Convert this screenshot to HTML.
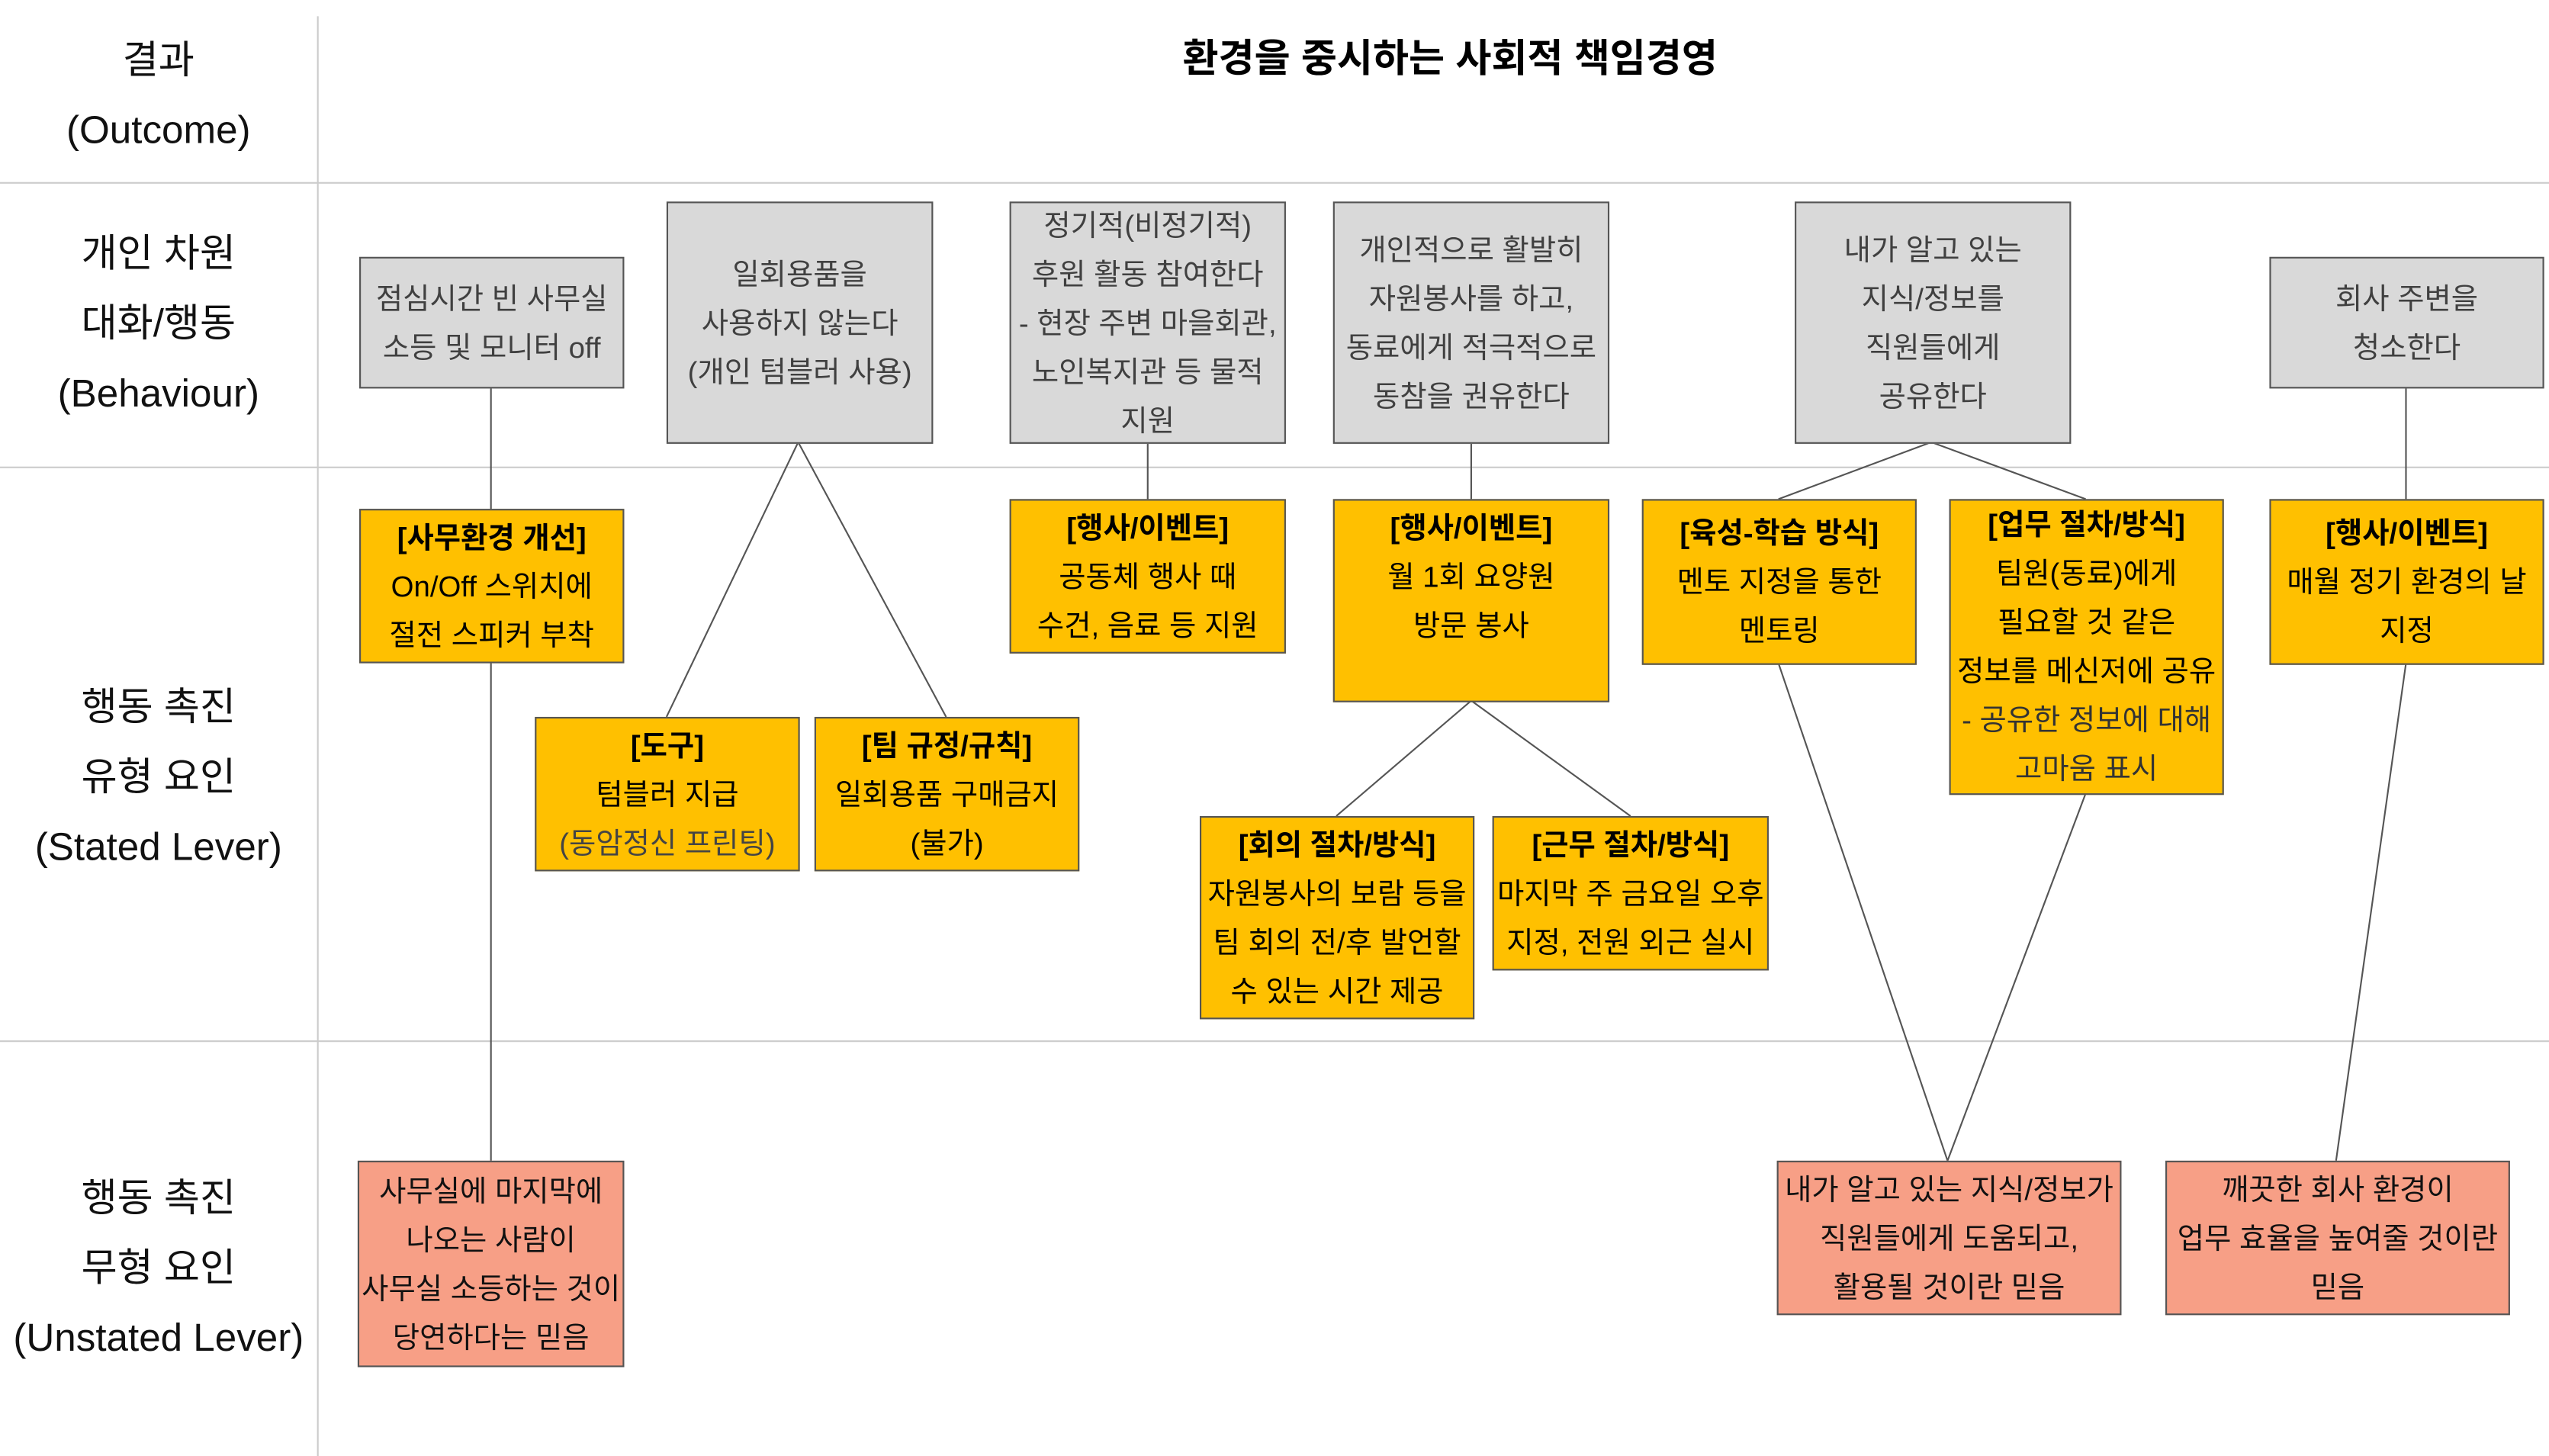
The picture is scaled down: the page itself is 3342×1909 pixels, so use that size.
<!DOCTYPE html>
<html><head><meta charset="utf-8"><style>
html,body{margin:0;padding:0;background:#fff;}
#wrap{width:3342px;height:1909px;overflow:hidden;position:relative;}
#c{position:absolute;left:0;top:0;width:1568px;height:896px;transform:scale(2.1314);transform-origin:0 0;font-family:"Liberation Sans","Noto Sans CJK KR",sans-serif;}
.b{position:absolute;box-sizing:border-box;border:1px solid #555;display:flex;flex-direction:column;justify-content:center;align-items:center;text-align:center;font-size:18px;line-height:30px;white-space:nowrap;}
.g{background:#d9d9d9;color:#404040;}
.o{background:#ffc000;color:#000;}
.s{background:#f79f86;color:#111;}
.o b{font-weight:bold;}
.lab{position:absolute;left:0;width:195px;text-align:center;font-size:24px;line-height:43px;color:#111;}
.hl{position:absolute;left:0;width:1568px;height:1px;background:#ccc;}
svg{position:absolute;left:0;top:0;}
</style></head><body><div id="wrap"><div id="c">
<div class="hl" style="top:112px"></div>
<div class="hl" style="top:287px"></div>
<div class="hl" style="top:640px"></div>
<div style="position:absolute;left:195px;top:10px;width:1px;height:886px;background:#ccc"></div>

<div class="lab" style="top:16px">결과<br>(Outcome)</div>
<div class="lab" style="top:135px">개인 차원<br>대화/행동<br>(Behaviour)</div>
<div class="lab" style="top:414px">행동 촉진<br>유형 요인<br>(Stated Lever)</div>
<div class="lab" style="top:716px">행동 촉진<br>무형 요인<br>(Unstated Lever)</div>
<div style="position:absolute;left:600px;width:584px;top:20px;text-align:center;font-size:24px;font-weight:bold;line-height:34px">환경을 중시하는 사회적 책임경영</div>

<svg width="1568" height="896"><g stroke="#555" stroke-width="1" fill="none">
<line x1="302" y1="238" x2="302" y2="313"/><line x1="302" y1="407" x2="302" y2="714"/>
<line x1="491" y1="272" x2="410" y2="441"/><line x1="491" y1="272" x2="582" y2="441"/>
<line x1="706" y1="272" x2="706" y2="307"/><line x1="905" y1="272" x2="905" y2="307"/>
<line x1="905" y1="431" x2="822" y2="502"/><line x1="905" y1="431" x2="1003" y2="502"/>
<line x1="1188" y1="272" x2="1094" y2="307"/><line x1="1188" y1="272" x2="1283" y2="307"/>
<line x1="1094" y1="408" x2="1198" y2="714"/><line x1="1283" y1="488" x2="1198" y2="714"/>
<line x1="1480" y1="238" x2="1480" y2="307"/><line x1="1480" y1="408" x2="1437" y2="714"/>
</g></svg>

<div class="b g" style="left:221px;top:158px;width:163px;height:81px">점심시간 빈 사무실<br>소등 및 모니터 off</div>
<div class="b g" style="left:410px;top:124px;width:164px;height:149px">일회용품을<br>사용하지 않는다<br>(개인 텀블러 사용)</div>
<div class="b g" style="left:621px;top:124px;width:170px;height:149px">정기적(비정기적)<br>후원 활동 참여한다<br>- 현장 주변 마을회관,<br>노인복지관 등 물적<br>지원</div>
<div class="b g" style="left:820px;top:124px;width:170px;height:149px">개인적으로 활발히<br>자원봉사를 하고,<br>동료에게 적극적으로<br>동참을 권유한다</div>
<div class="b g" style="left:1104px;top:124px;width:170px;height:149px">내가 알고 있는<br>지식/정보를<br>직원들에게<br>공유한다</div>
<div class="b g" style="left:1396px;top:158px;width:169px;height:81px">회사 주변을<br>청소한다</div>

<div class="b o" style="left:221px;top:313px;width:163px;height:95px"><b>[사무환경 개선]</b>On/Off 스위치에<br>절전 스피커 부착</div>
<div class="b o" style="left:329px;top:441px;width:163px;height:95px"><b>[도구]</b>텀블러 지급<br><span style="color:#444">(동암정신 프린팅)</span></div>
<div class="b o" style="left:501px;top:441px;width:163px;height:95px"><b>[팀 규정/규칙]</b>일회용품 구매금지<br>(불가)</div>
<div class="b o" style="left:621px;top:307px;width:170px;height:95px"><b>[행사/이벤트]</b>공동체 행사 때<br>수건, 음료 등 지원</div>
<div class="b o" style="left:820px;top:307px;width:170px;height:125px;justify-content:flex-start;padding-top:2px"><b>[행사/이벤트]</b>월 1회 요양원<br>방문 봉사</div>
<div class="b o" style="left:1010px;top:307px;width:169px;height:102px"><b>[육성-학습 방식]</b>멘토 지정을 통한<br>멘토링</div>
<div class="b o" style="left:1199px;top:307px;width:169px;height:182px"><b>[업무 절차/방식]</b>팀원(동료)에게<br>필요할 것 같은<br>정보를 메신저에 공유<br><span style="color:#333">- 공유한 정보에 대해<br>고마움 표시</span></div>
<div class="b o" style="left:1396px;top:307px;width:169px;height:102px"><b>[행사/이벤트]</b>매월 정기 환경의 날<br>지정</div>
<div class="b o" style="left:738px;top:502px;width:169px;height:125px"><b>[회의 절차/방식]</b>자원봉사의 보람 등을<br>팀 회의 전/후 발언할<br>수 있는 시간 제공</div>
<div class="b o" style="left:918px;top:502px;width:170px;height:95px"><b>[근무 절차/방식]</b>마지막 주 금요일 오후<br>지정, 전원 외근 실시</div>

<div class="b s" style="left:220px;top:714px;width:164px;height:127px">사무실에 마지막에<br>나오는 사람이<br>사무실 소등하는 것이<br>당연하다는 믿음</div>
<div class="b s" style="left:1093px;top:714px;width:212px;height:95px">내가 알고 있는 지식/정보가<br>직원들에게 도움되고,<br>활용될 것이란 믿음</div>
<div class="b s" style="left:1332px;top:714px;width:212px;height:95px">깨끗한 회사 환경이<br>업무 효율을 높여줄 것이란<br>믿음</div>
</div></div></body></html>
